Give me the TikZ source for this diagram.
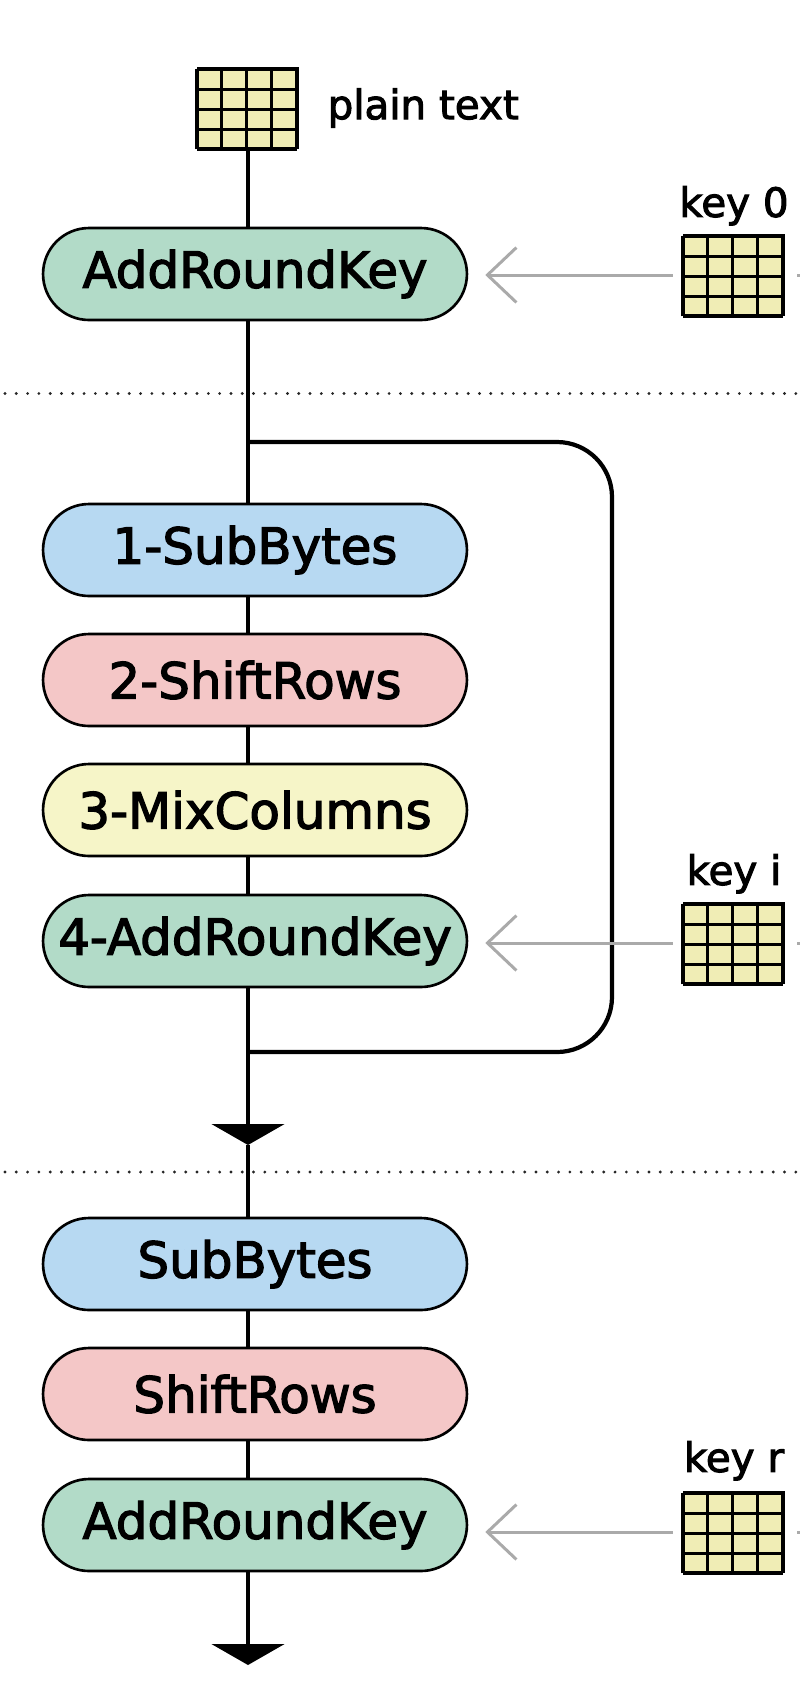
\documentclass[tikz,border=0pt]{standalone}
\usepackage{fontspec}
\setmainfont{DejaVu Sans}[FakeBold=2.5]
\usetikzlibrary{positioning,arrows.meta,backgrounds}

\definecolor{arkgreen}{HTML}{B2DBC8}
\definecolor{subblue}{HTML}{B7D9F2}
\definecolor{shiftpink}{HTML}{F4C7C7}
\definecolor{mixyellow}{HTML}{F6F5C8}
\definecolor{cellyellow}{HTML}{F0EDB5}
\definecolor{keygray}{HTML}{AAAAAA}

\tikzset{
  stage/.style={draw=black,line width=1.5pt,rounded corners=0.92cm,
    minimum width=8.48cm,minimum height=1.84cm,inner sep=0pt,
    font=\fontsize{28.4}{34}\selectfont},
  flow/.style={line width=2.4pt},
  keyline/.style={draw=keygray,line width=1.7pt},
  keybox/.style={draw=black,line width=1.5pt,fill=cellyellow,
    minimum width=2cm,minimum height=1.6cm,inner sep=0pt},
  lbl/.style={inner sep=0pt,font=\fontsize{23}{27}\selectfont},
  sep/.style={draw=black!85,line width=1.8pt,line cap=round,
    dash pattern=on 0pt off 0.226cm},
}

% 4x4 state grid
\newcommand\keygrid[2]{%
  \node[keybox] (#1) at (#2) {};
  \draw[line width=1.5pt,shift={(#1.south west)}] (0,0) grid[xstep=0.5cm,ystep=0.4cm] (2cm,1.6cm);
}

\begin{document}
\begin{tikzpicture}[x=0.02cm,y=-0.02cm,>=Latex]
  \useasboundingbox (0,0) rectangle (800,1705);
  \def\bar{-{Triangle[length=0.42cm,width=1.45cm]}}

  % input
  \keygrid{pt}{248,108}
  \node[lbl,right=0.56cm of pt] (ptl) {plain text};
  \node[stage,fill=arkgreen] (ark0) at (255,274) {AddRoundKey};
  \keygrid{k0}{734,275}
  \node[lbl,above=0.16cm of k0] (l0) {key 0};

  \draw[sep] (5,393.5) -- (800,393.5);

  % round i
  \node[stage,fill=subblue]   (r1) at (255,550) {1-SubBytes};
  \node[stage,fill=shiftpink] (r2) at (255,680) {2-ShiftRows};
  \node[stage,fill=mixyellow] (r3) at (255,810) {3-MixColumns};
  \node[stage,fill=arkgreen]  (r4) at (255,941) {4-AddRoundKey};
  \keygrid{ki}{734,943}
  \node[lbl,above=0.16cm of ki] (li) {key i};

  \draw[sep] (5,1172) -- (800,1172);

  % last round
  \node[stage,fill=subblue]   (f1) at (255,1264) {SubBytes};
  \node[stage,fill=shiftpink] (f2) at (255,1394) {ShiftRows};
  \node[stage,fill=arkgreen]  (f3) at (255,1525) {AddRoundKey};
  \keygrid{kr}{734,1532}
  \node[lbl,above=0.2cm of kr] (lr) {key r};

  \coordinate (split) at (248,442);
  \coordinate (join) at (248,1052);
  \coordinate (tip1) at (248,1145);
  \coordinate (tip2) at (248,1665);

  \begin{scope}[on background layer]
    \draw[flow,\bar] (pt.south) -- (tip1);
    \draw[flow,\bar] (tip1) -- (tip2);
  \end{scope}
  \draw[flow,rounded corners=1.1cm] (split) -- (612,442) -- (612,1052) -- (join);

  % round keys
  \foreach \k/\s in {k0/ark0,ki/r4,kr/f3}{
    \draw[keyline,-{Straight Barb[length=0.58cm,width=1.1cm]},shorten <=0.2cm,shorten >=0.34cm]
      (\k.west) -- (\s.east |- \k.west);
    \draw[keyline] ([xshift=0.24cm]\k.east) -- ++(0.6cm,0);
  }
\end{tikzpicture}
\end{document}
